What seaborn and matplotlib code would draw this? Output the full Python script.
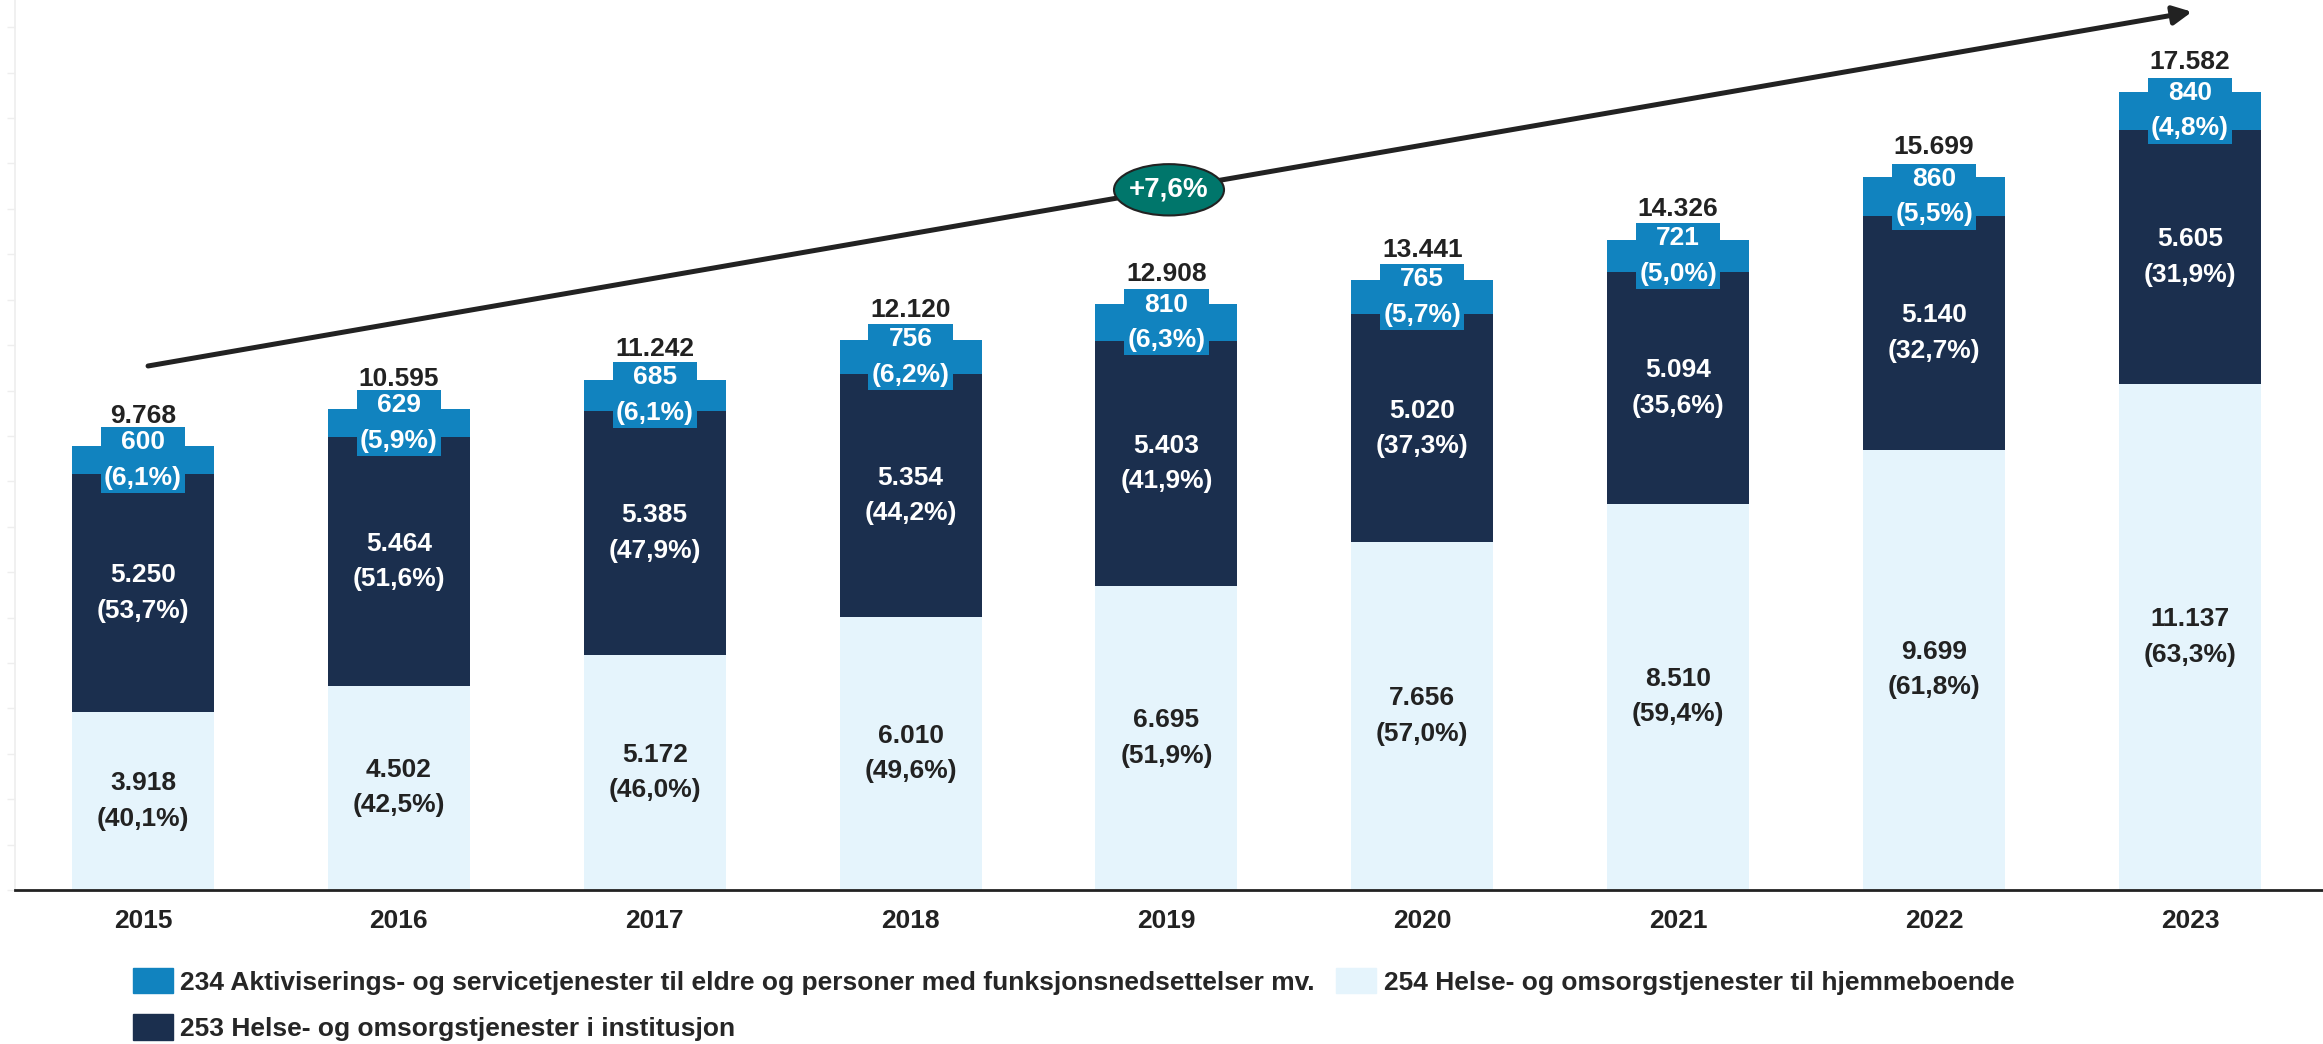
import numpy as np
import pandas as pd
import seaborn as sns
import matplotlib.pyplot as plt
from matplotlib.patches import Ellipse, Patch

years = ["2015", "2016", "2017", "2018", "2019", "2020", "2021", "2022", "2023"]
hjemme = [3918, 4502, 5172, 6010, 6695, 7656, 8510, 9699, 11137]
institusjon = [5250, 5464, 5385, 5354, 5403, 5020, 5094, 5140, 5605]
aktivisering = [600, 629, 685, 756, 810, 765, 721, 860, 840]
totals = [9768, 10595, 11242, 12120, 12908, 13441, 14326, 15699, 17582]
pct_hjemme = ["40,1", "42,5", "46,0", "49,6", "51,9", "57,0", "59,4", "61,8", "63,3"]
pct_inst = ["53,7", "51,6", "47,9", "44,2", "41,9", "37,3", "35,6", "32,7", "31,9"]
pct_akt = ["6,1", "5,9", "6,1", "6,2", "6,3", "5,7", "5,0", "5,5", "4,8"]
growth_label = "+7,6%"

leg_akt = "234 Aktiviserings- og servicetjenester til eldre og personer med funksjonsnedsettelser mv."
leg_inst = "253 Helse- og omsorgstjenester i institusjon"
leg_hjemme = "254 Helse- og omsorgstjenester til hjemmeboende"

c_akt = "#1183bf"
c_inst = "#1b2f4e"
c_hjemme = "#e5f4fc"
c_text = "#222222"
c_teal = "#00766b"

sns.set_theme(style="white")
plt.rcParams["font.family"] = ["Liberation Sans", "DejaVu Sans"]
plt.rcParams["font.weight"] = "bold"

df = pd.DataFrame({"year": years, "hjemme": hjemme, "inst": institusjon, "akt": aktivisering})
df["cum_inst"] = df["hjemme"] + df["inst"]
df["cum_akt"] = df["cum_inst"] + df["akt"]

def fmt(v):
    return f"{v:,}".replace(",", ".")

fig = plt.figure(figsize=(23.23, 10.44), dpi=100)
ax = fig.add_axes([15 / 2323, 154 / 1044, 1 - 15 / 2323, 890 / 1044])

bw = 0.555
sns.barplot(data=df, x="year", y="cum_akt", color=c_akt, width=bw, linewidth=0, saturation=1, ax=ax)
sns.barplot(data=df, x="year", y="cum_inst", color=c_inst, width=bw, linewidth=0, saturation=1, ax=ax)
sns.barplot(data=df, x="year", y="hjemme", color=c_hjemme, width=bw, linewidth=0, saturation=1, ax=ax)

fs = 19
ls = 1.6
for i in range(len(years)):
    # bottom segment
    ax.text(i, hjemme[i] / 2, f"{fmt(hjemme[i])}\n({pct_hjemme[i]}%)", ha="center", va="center",
            fontsize=fs, fontweight="bold", color=c_text, linespacing=ls)
    # middle segment
    ax.text(i, hjemme[i] + institusjon[i] / 2, f"{fmt(institusjon[i])}\n({pct_inst[i]}%)", ha="center",
            va="center", fontsize=fs, fontweight="bold", color="white", linespacing=ls)
    # top segment with boxed label
    ax.text(i, hjemme[i] + institusjon[i] + aktivisering[i] / 2, f"{fmt(aktivisering[i])}\n({pct_akt[i]}%)",
            ha="center", va="center", fontsize=fs, fontweight="bold", color="white", linespacing=ls,
            bbox=dict(boxstyle="square,pad=0.12", fc=c_akt, ec="none"), zorder=5)
    # totals
    ax.annotate(fmt(totals[i]), (i, totals[i]), xytext=(0, 13), textcoords="offset points",
                ha="center", va="bottom", fontsize=fs, fontweight="bold", color=c_text, zorder=6)

# growth arrow
ax.annotate("", xy=(8.008, 19340), xytext=(0.02, 11540),
            arrowprops=dict(arrowstyle="-|>", lw=3.6, color=c_text, mutation_scale=28,
                            shrinkA=0, shrinkB=0), annotation_clip=False, zorder=7)
ell = Ellipse((4.01, 15420), width=0.43, height=1130, facecolor=c_teal, edgecolor=c_text, lw=1.5, zorder=8)
ax.add_patch(ell)
ax.text(4.01, 15420, growth_label, ha="center", va="center", fontsize=fs + 1, fontweight="bold",
        color="white", zorder=9)

ax.set_xlim(-0.5, 8.52)
ax.set_ylim(0, 19600)
ax.set_xlabel("")
ax.set_ylabel("")
ax.set_yticks(np.arange(0, 19001, 1000))
ax.set_yticklabels([])
ax.tick_params(axis="y", left=True, length=6, color="#eeeeee", width=1)
ax.tick_params(axis="x", length=0, pad=14, labelsize=fs, labelcolor=c_text)
for lab in ax.get_xticklabels():
    lab.set_fontweight("bold")
ax.spines["top"].set_visible(False)
ax.spines["right"].set_visible(False)
ax.spines["left"].set_color("#eeeeee")
ax.spines["bottom"].set_color(c_text)
ax.spines["bottom"].set_linewidth(2)

handles = [Patch(color=c_akt, label=leg_akt), Patch(color=c_inst, label=leg_inst),
           Patch(color=c_hjemme, label=leg_hjemme)]
fig.legend(handles=handles, loc="upper left", bbox_to_anchor=(133 / 2323, 1 - 968 / 1044), ncol=2,
           frameon=False, borderpad=0, borderaxespad=0, handlelength=1.5, handleheight=1.1,
           handletextpad=0.3, columnspacing=0.8, labelspacing=0.75,
           prop=dict(family=["Liberation Sans", "DejaVu Sans"], weight="bold", size=19))

fig.savefig("out.png", dpi=100)
